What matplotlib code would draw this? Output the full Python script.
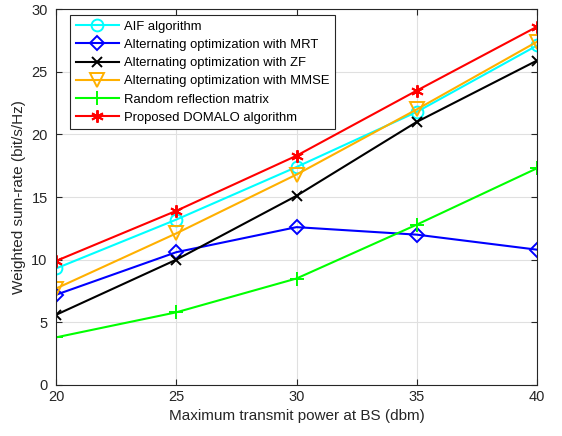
import matplotlib
matplotlib.use("Agg")
import matplotlib.pyplot as plt

plt.rcParams['font.family'] = ['Liberation Sans', 'DejaVu Sans']

power_dbm = [20, 25, 30, 35, 40]

aif = [9.3, 13.2, 17.4, 21.8, 27.1]
ao_mrt = [7.2, 10.6, 12.6, 12.0, 10.8]
ao_zf = [5.6, 10.0, 15.1, 21.0, 25.9]
ao_mmse = [7.7, 12.1, 16.8, 22.0, 27.4]
random_refl = [3.8, 5.8, 8.5, 12.8, 17.3]
domalo = [9.9, 13.9, 18.3, 23.5, 28.6]

# (values, label, colour, marker, marker size)
series = [
    (aif, 'AIF algorithm', 'cyan', 'o', 8.5),
    (ao_mrt, 'Alternating optimization with MRT', 'blue', 'D', 7.5),
    (ao_zf, 'Alternating optimization with ZF', 'black', 'x', 7),
    (ao_mmse, 'Alternating optimization with MMSE', '#FFB000', 'v', 9.5),
    (random_refl, 'Random reflection matrix', '#00FF00', '+', 10),
    (domalo, 'Proposed DOMALO algorithm', 'red', (6, 2, 0), 9),
]

fig = plt.figure(figsize=(5.62, 4.36), dpi=100)
ax = fig.add_axes([0.0996, 0.117, 0.856, 0.862])

for vals, label, color, marker, ms in series:
    ax.plot(power_dbm, vals, color=color, marker=marker, markersize=ms,
            markerfacecolor='none', markeredgewidth=1.4, linewidth=1.5, label=label)

ax.set_xlim(20, 40)
ax.set_ylim(0, 30)
ax.set_xticks(power_dbm)
ax.set_yticks(range(0, 31, 5))
ax.grid(True, color='#e0e0e0', linewidth=0.8)
ax.set_axisbelow(True)
ax.tick_params(direction='in', length=4, labelsize=10.5, colors='#262626',
               top=True, right=True)
ax.tick_params(axis='y', pad=6)
for sp in ax.spines.values():
    sp.set_color('#262626')
    sp.set_linewidth(0.8)

ax.set_xlabel('Maximum transmit power at BS (dbm)', fontsize=11, color='#262626')
ax.set_ylabel('Weighted sum-rate (bit/s/Hz)', fontsize=11, color='#262626')

leg = ax.legend(loc='upper left', bbox_to_anchor=(0.03, 0.984), borderaxespad=0,
                fontsize=9.4, handlelength=3.3, handletextpad=0.4,
                labelspacing=0.47, fancybox=False, framealpha=1,
                edgecolor='#262626', borderpad=0.4)
leg.get_frame().set_linewidth(0.8)

fig.savefig('out.png', dpi=100)
